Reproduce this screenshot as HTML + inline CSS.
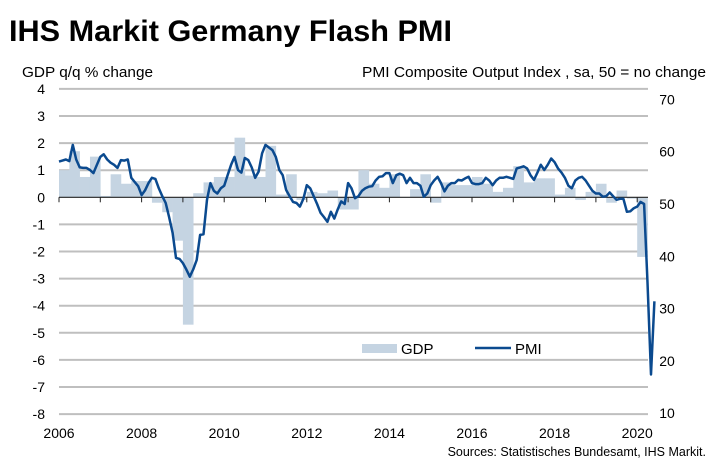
<!DOCTYPE html>
<html><head><meta charset="utf-8">
<style>
html,body{margin:0;padding:0;background:#fff;}
body{width:726px;height:469px;overflow:hidden;font-family:"Liberation Sans",Arial,sans-serif;}
svg text{font-family:"Liberation Sans",Arial,sans-serif;}
</style></head>
<body>
<svg id="chart" width="726" height="469" viewBox="0 0 726 469" xmlns="http://www.w3.org/2000/svg">
<text x="9" y="41" font-size="30" font-weight="bold" fill="#000" textLength="443" lengthAdjust="spacingAndGlyphs">IHS Markit Germany Flash PMI</text>
<text x="22" y="77" font-size="15" fill="#000" textLength="131" lengthAdjust="spacingAndGlyphs">GDP q/q % change</text>
<text x="362" y="77" font-size="15" fill="#000" textLength="344" lengthAdjust="spacingAndGlyphs">PMI Composite Output Index , sa, 50 = no change</text>
<g id="grid"></g>
<g id="bars"></g>
<g id="axis"></g>
<g id="line"></g>
<g id="ticks"></g>
<g>
<rect x="362" y="344" width="35" height="9" fill="#c5d4e2"></rect>
<text x="401" y="354" font-size="15" fill="#000">GDP</text>
<line x1="475" y1="348" x2="511" y2="348" stroke="#0b4a8f" stroke-width="2.5"></line>
<text x="515" y="354" font-size="15" fill="#000">PMI</text>
</g>
<text x="706" y="456" font-size="12.5" fill="#000" text-anchor="end">Sources: Statistisches Bundesamt, IHS Markit.</text>
</svg>
<script>
const gdp = [1.0,1.7,0.75,1.5, 0.05,0.85,0.5,0.6, 0.6,-0.2,-0.55,-1.6, -4.7,0.15,0.55,0.75,
 0.75,2.2,0.8,0.75, 1.9,0.1,0.85,-0.1, 0.2,0.15,0.25,-0.45, -0.45,1.0,0.5,0.35,
 0.85,0.0,0.3,0.85, -0.2,0.55,0.45,0.45, 0.75,0.5,0.2,0.35, 1.15,0.55,0.7,0.7,
 0.1,0.35,-0.1,0.2, 0.5,-0.2,0.25,-0.05, -2.2];
const pmi = [
 58.1,58.3,58.5,58.2,61.3,58.5,57.0,56.9,56.9,56.5,55.9,57.5,
 59.0,59.5,58.5,57.9,57.5,56.9,58.4,58.3,58.5,55.0,54.2,53.4,
 51.7,52.6,54.0,55.0,54.8,53.0,51.5,50.2,47.5,44.5,39.7,39.5,
 38.7,37.5,36.1,37.5,39.3,44.1,44.2,50.8,54.0,52.5,52.0,53.0,
 53.5,55.5,57.5,59.0,56.5,56.0,58.8,58.4,57.0,55.0,56.2,59.7,
 61.3,60.8,60.3,59.0,56.5,55.5,52.7,51.5,50.4,50.2,49.5,51.0,
 53.6,53.0,51.5,50.0,48.3,47.5,46.6,48.5,47.2,49.0,50.5,50.0,
 54.0,53.0,51.1,51.5,52.5,53.0,53.3,53.4,54.5,55.2,55.3,55.9,
 55.9,54.0,55.5,55.8,55.5,54.0,55.0,54.0,54.0,53.5,51.4,52.0,
 53.6,54.5,55.2,54.0,52.4,53.5,54.0,54.0,54.6,54.5,54.9,55.2,
 54.0,53.8,53.8,54.0,55.0,54.5,53.6,54.5,55.0,55.0,55.2,55.0,
 54.8,56.8,57.0,57.2,56.8,55.5,54.6,56.0,57.5,56.5,57.5,58.7,
 58.0,56.8,56.0,55.0,53.5,53.0,54.5,55.0,55.2,54.5,53.5,52.5,
 52.0,52.0,51.4,51.5,52.2,51.5,50.8,51.0,51.0,48.5,48.6,49.2,
 49.5,50.4,50.0,35.0,17.4,31.4];
const gdpTicks = [4,3,2,1,0,-1,-2,-3,-4,-5,-6,-7,-8];
const pmiTicks = [70,60,50,40,30,20,10];
const yearTicks = [2006,2008,2010,2012,2014,2016,2018,2020];

const NS='http://www.w3.org/2000/svg';
const X0=59, YEARW=41.3, PLOTR=648;
function xYear(y){return X0+(y-2006)*YEARW;}
function xMonth(m){return X0+m*YEARW/12;}
function yGdp(v){return 197.3-v*27.1;}
function yPmi(v){return 204-(v-50)*5.23;}
function mk(tag,attrs,parent){const e=document.createElementNS(NS,tag);for(const k in attrs)e.setAttribute(k,attrs[k]);parent.appendChild(e);return e;}

const grid=document.getElementById('grid');
gdpTicks.forEach(v=>{ if(v===0) return;
 const l=mk('line',{x1:X0,x2:PLOTR,y1:yGdp(v),y2:yGdp(v),stroke:'#bfbfbf','stroke-width':2},grid);
 
 
});
const bars=document.getElementById('bars');
const qw=YEARW/4;
gdp.forEach((v,i)=>{
 const x=X0+i*qw, y0=yGdp(0), y1=yGdp(v);
 const r=mk('rect',{x:x,y:Math.min(y0,y1),width:qw+0.3,height:Math.abs(y1-y0),fill:'#c5d4e2'},bars);
 
 
});
const axis=document.getElementById('axis');
const ax=mk('line',{x1:X0,x2:PLOTR,y1:yGdp(0),y2:yGdp(0),stroke:'#222','stroke-width':1.2},axis);


for(let y=2006;y<=2020;y++){
 const t=mk('line',{x1:xYear(y),x2:xYear(y),y1:yGdp(0),y2:yGdp(0)+5,stroke:'#222','stroke-width':1},axis);
 
 
}
const lineG=document.getElementById('line');
const pts=pmi.map((v,m)=>xMonth(m).toFixed(1)+','+yPmi(v).toFixed(1)).join(' ');
const pl=mk('polyline',{points:pts,fill:'none',stroke:'#0b4a8f','stroke-width':2.5,'stroke-linejoin':'round'},lineG);



const ticks=document.getElementById('ticks');
gdpTicks.forEach(v=>{
 const t=mk('text',{x:45,y:yGdp(v)+5,'font-size':14,'text-anchor':'end',fill:'#000'},ticks);
 t.textContent=String(v);
 
 
});
pmiTicks.forEach(v=>{
 const t=mk('text',{x:667,y:yPmi(v)+5,'font-size':14,'text-anchor':'middle',fill:'#000'},ticks);
 t.textContent=String(v);
 
 
});
yearTicks.forEach(y=>{
 const t=mk('text',{x:xYear(y),y:438,'font-size':14,'text-anchor':'middle',fill:'#000'},ticks);
 t.textContent=String(y);
 
 
});
</script>
</body></html>
